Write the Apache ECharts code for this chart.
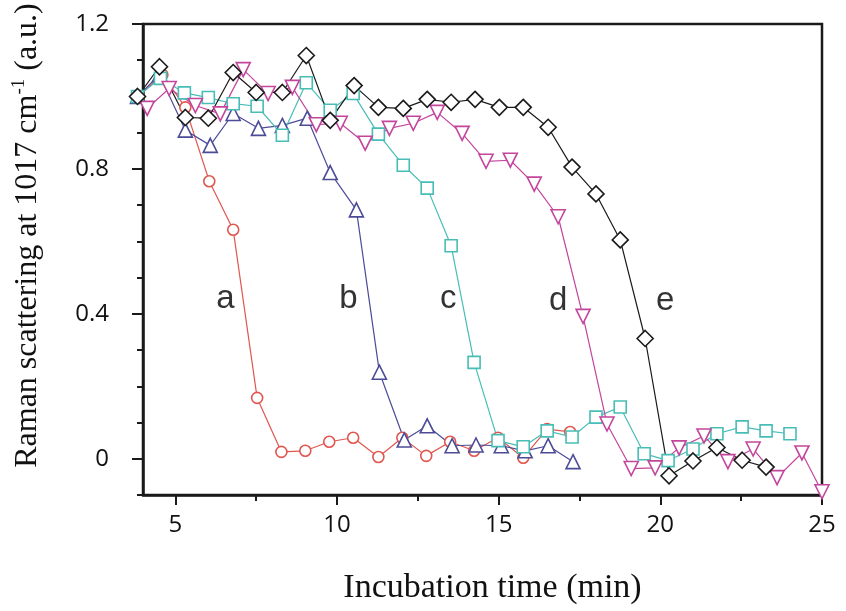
<!DOCTYPE html>
<html>
<head>
<meta charset="utf-8">
<script src="https://cdn.jsdelivr.net/npm/echarts@6/dist/echarts.min.js"></script>
<style>
html,body{margin:0;padding:0;background:#fff;}
#chart{width:846px;height:611px;}
</style>
</head>
<body>
<div id="chart"></div>
<script>
// ---- data ----
var aX = [3.83, 4.60, 5.31, 6.05, 6.79, 7.53, 8.28, 9.02, 9.76, 10.50, 11.28, 12.02, 12.76, 13.50, 14.24, 14.98, 15.76, 16.50, 17.21];
var aY = [1.00, 1.06, 0.97, 0.766, 0.632, 0.168, 0.019, 0.022, 0.047, 0.058, 0.005, 0.058, 0.008, 0.047, 0.022, 0.058, 0.003, 0.082, 0.074];

var bX = [3.83, 4.51, 5.31, 6.08, 6.79, 7.57, 8.31, 9.08, 9.79, 10.60, 11.31, 12.08, 12.79, 13.56, 14.30, 15.08, 15.82, 16.53, 17.30];
var bY = [1.00, 1.06, 0.907, 0.865, 0.953, 0.912, 0.92, 0.94, 0.79, 0.687, 0.239, 0.052, 0.091, 0.036, 0.038, 0.036, 0.022, 0.036, -0.008];

var cX = [3.83, 4.54, 5.28, 6.02, 6.79, 7.53, 8.31, 9.05, 9.79, 10.50, 11.28, 12.05, 12.79, 13.53, 14.24, 14.98, 15.76, 16.50, 17.27, 18.01, 18.76, 19.50, 20.24, 21.01, 21.75, 22.53, 23.27, 24.01];
var cY = [1.00, 1.05, 1.01, 0.997, 0.98, 0.973, 0.893, 1.038, 0.962, 1.008, 0.896, 0.81, 0.747, 0.588, 0.266, 0.05, 0.033, 0.077, 0.06, 0.115, 0.143, 0.014, -0.005, 0.027, 0.069, 0.088, 0.077, 0.069];

var dX = [4.13, 4.81, 5.62, 6.39, 7.10, 7.87, 8.62, 9.36, 10.10, 10.87, 11.62, 12.36, 13.10, 13.87, 14.61, 15.36, 16.10, 16.84, 17.61, 18.35, 19.10, 19.84, 20.58, 21.35, 22.09, 22.87, 23.61, 24.38, 25.0];
var dY = [0.967, 1.022, 0.975, 0.952, 1.074, 1.008, 1.025, 0.922, 0.926, 0.871, 0.912, 0.926, 0.956, 0.898, 0.821, 0.824, 0.758, 0.668, 0.393, 0.096, -0.027, -0.025, 0.03, 0.063, -0.008, 0.027, -0.052, 0.016, -0.091];

var eX = [3.83, 4.51, 5.31, 6.02, 6.79, 7.50, 8.31, 9.05, 9.79, 10.53, 11.28, 12.05, 12.79, 13.53, 14.27, 15.02, 15.76, 16.53, 17.27, 18.01, 18.76, 19.53, 20.27, 21.01, 21.75, 22.53, 23.27];
var eY = [1.00, 1.082, 0.942, 0.94, 1.066, 1.011, 1.011, 1.113, 0.934, 1.03, 0.97, 0.967, 0.992, 0.984, 0.992, 0.97, 0.97, 0.915, 0.805, 0.731, 0.604, 0.332, -0.047, -0.006, 0.031, -0.004, -0.023];

var curveNames = ['a', 'b', 'c', 'd', 'e'];
var curveLabelX = [6.55, 10.35, 13.44, 16.84, 20.15];
var curveLabelY = [0.44, 0.44, 0.44, 0.435, 0.435];

var xMajorTicks = [5, 10, 15, 20, 25];
var xMinorTicks = [7.5, 12.5, 17.5, 22.5];
var yMajorTicks = [0, 0.4, 0.8, 1.2];

var xTitle = 'Incubation time (min)';

function pairs(xs, ys) { return xs.map(function (x, i) { return [x, ys[i]]; }); }

var chart = echarts.init(document.getElementById('chart'), null, {renderer: 'canvas'});

function lineSeries(name, xs, ys, symbol, size, color, rotate) {
  return {
    name: name, type: 'line', xAxisIndex: 0, yAxisIndex: 0,
    data: pairs(xs, ys), clip: false,
    symbol: symbol, symbolSize: size, symbolRotate: rotate || 0,
    showAllSymbol: true,
    lineStyle: {color: color, width: 1.2},
    itemStyle: {color: '#fff', borderColor: color, borderWidth: 1.6},
    emphasis: {disabled: true},
    animation: false
  };
}

var labelData = curveNames.map(function (n, i) { return {name: n, value: [curveLabelX[i], curveLabelY[i]]}; });

function isMajorY(v) {
  for (var i = 0; i < yMajorTicks.length; i++) { if (Math.abs(v - yMajorTicks[i]) < 1e-6) return true; }
  return false;
}

var option = {
  animation: false,
  backgroundColor: '#fff',
  grid: {left: 143, right: 24, top: 24, bottom: 116, show: true, borderColor: '#1a1a1a', borderWidth: 2.5, backgroundColor: 'transparent'},
  xAxis: [{
    type: 'value', min: 4, max: 25,
    axisLine: {show: true, onZero: false, lineStyle: {color: '#1a1a1a', width: 2.5}},
    axisTick: {show: true, customValues: xMajorTicks, length: 10, lineStyle: {color: '#1a1a1a', width: 2}},
    axisLabel: {customValues: xMajorTicks, margin: 18, fontFamily: 'Open Sans', fontSize: 24, color: '#111'},
    splitLine: {show: false},
    name: xTitle, nameLocation: 'middle', nameGap: 76,
    nameTextStyle: {fontFamily: 'Liberation Serif', fontSize: 34, color: '#111', padding: [0, 0, 0, 20]}
  }, {
    type: 'value', min: 4, max: 25, position: 'bottom',
    axisLine: {show: false, onZero: false},
    axisTick: {show: true, customValues: xMinorTicks, length: 6, lineStyle: {color: '#1a1a1a', width: 2}},
    axisLabel: {show: false}, splitLine: {show: false}
  }],
  yAxis: [{
    type: 'value', min: -0.1, max: 1.2, interval: 0.1,
    axisLine: {show: true, onZero: false, lineStyle: {color: '#1a1a1a', width: 2.5}},
    axisTick: {show: true, length: 6, lineStyle: {color: '#1a1a1a', width: 2}},
    axisLabel: {margin: 34, fontFamily: 'Open Sans', fontSize: 24, color: '#111',
      formatter: function (v) { if (!isMajorY(v)) return ''; return Math.abs(v) < 1e-6 ? '0' : v.toFixed(1); }},
    splitLine: {show: false},
    name: 'Raman scattering at 1017 cm{sup|-1} (a.u.)', nameLocation: 'middle', nameGap: 98, nameRotate: 90,
    nameTextStyle: {fontFamily: 'Liberation Serif', fontSize: 32, color: '#111', padding: [0, 0, 0, 48],
      rich: {sup: {fontFamily: 'Liberation Serif', fontSize: 19, color: '#111', padding: [0, 0, 16, 0]}}}
  }, {
    type: 'value', min: -0.1, max: 1.2, position: 'left', offset: 0,
    axisLine: {show: false, onZero: false},
    axisTick: {show: true, customValues: yMajorTicks, length: 11, lineStyle: {color: '#1a1a1a', width: 2}},
    axisLabel: {show: false}, splitLine: {show: false}
  }],
  series: [
    lineSeries('a', aX, aY, 'circle', 11, '#e0574f'),
    lineSeries('b', bX, bY, 'triangle', 14, '#4c4b98'),
    lineSeries('c', cX, cY, 'rect', 12, '#48bdb5'),
    lineSeries('d', dX, dY, 'triangle', 14, '#c4459c', 180),
    {
      name: 'd-dot', type: 'scatter', data: pairs(dX, dY), clip: false,
      symbol: 'circle', symbolSize: 2, symbolOffset: [0, -1],
      itemStyle: {color: '#c4459c'}, emphasis: {disabled: true}, silent: true
    },
    lineSeries('e', eX, eY, 'diamond', 16, '#1a1a1a'),
    {
      name: 'labels', type: 'scatter', data: labelData, symbolSize: 0, silent: true,
      label: {show: true, position: 'inside', formatter: '{b}', fontFamily: 'Liberation Sans', fontSize: 33, color: '#000'}
    }
  ]
};
chart.setOption(option);
</script>
</body>
</html>
